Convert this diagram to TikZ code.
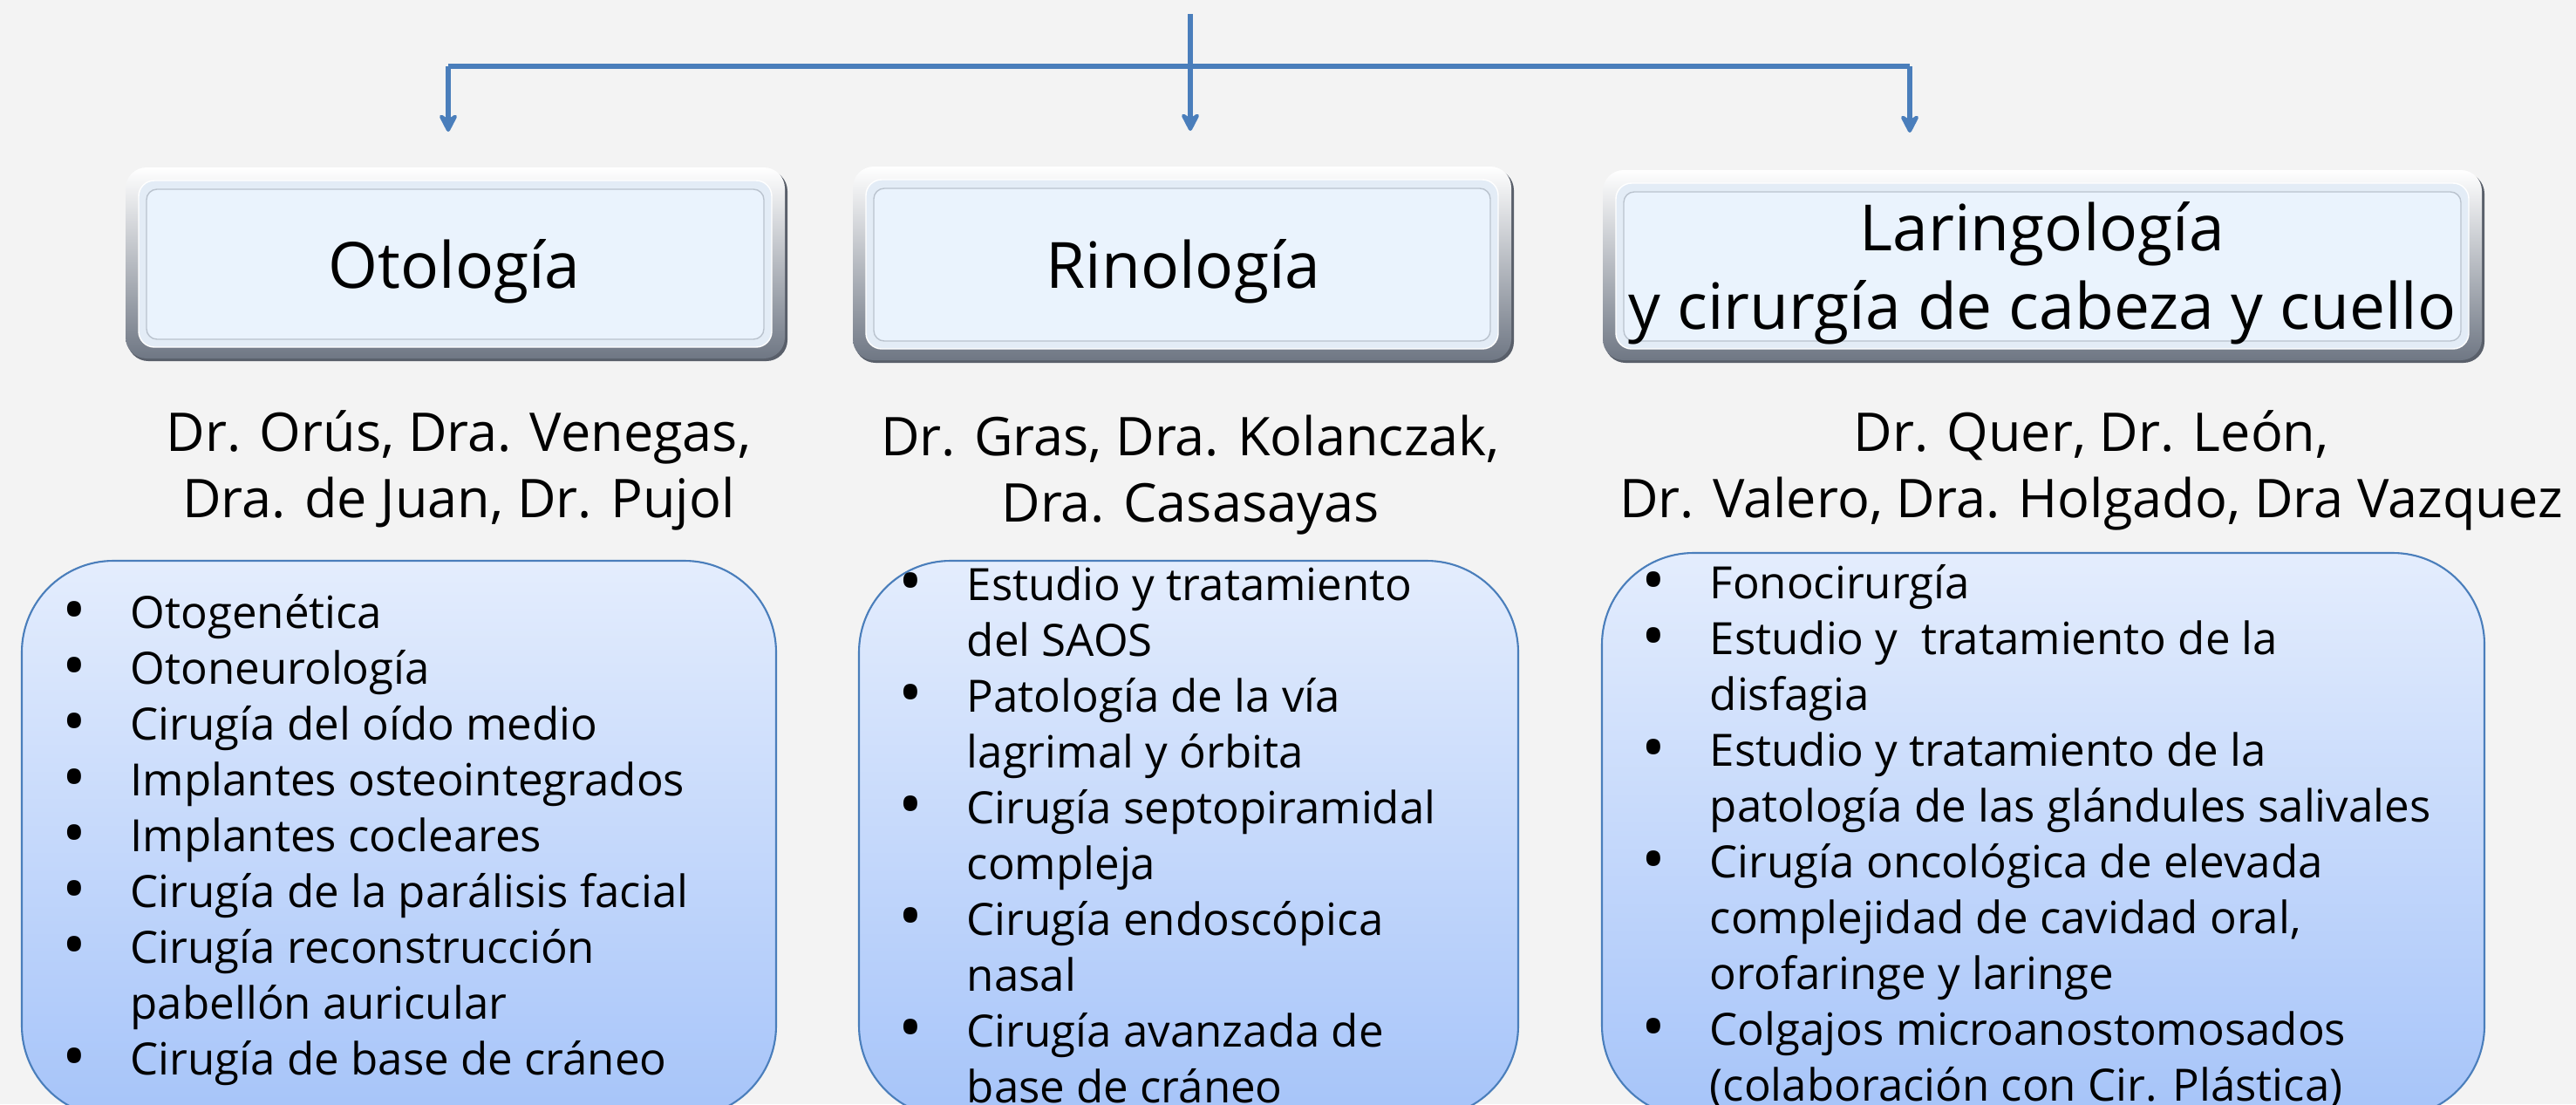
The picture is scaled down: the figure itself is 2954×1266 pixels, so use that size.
\documentclass[tikz,border=0pt]{standalone}
\usepackage{fontspec}
\setmainfont{Open Sans}
\usetikzlibrary{arrows.meta}

\definecolor{pagebg}{HTML}{F3F3F3}
\definecolor{linkblue}{HTML}{4A7EBB}
\definecolor{headfill}{HTML}{EAF3FD}
\definecolor{headrim}{HTML}{BAC3CE}
\definecolor{bevelgray}{HTML}{6F7784}
\definecolor{listtop}{HTML}{E4EDFD}
\definecolor{listbottom}{HTML}{A6C4F9}

\newcommand{\bul}{\makebox[0pt]{\raisebox{-0.09em}{\scalebox{1.45}{\textbullet}}}\hspace{0.64cm}}
\newcommand{\cont}{\hspace*{0.64cm}}

\begin{document}
\begin{tikzpicture}[x=0.01cm, y=-0.01cm,
    branch/.style={linkblue, line width=1.7pt, -{Stealth[length=7.4pt, width=7.6pt, inset=2.6pt, round]}},
    headtext/.style={font=\fontsize{20.8}{25.6}\selectfont, align=center, inner sep=0},
    docstext/.style={font=\fontsize{17.4}{21.6}\selectfont, align=center, inner sep=0},
    listtext/.style={font=\fontsize{14.5}{18.2}\selectfont, align=left, inner sep=0, anchor=west},
    listbox/.style={draw=linkblue, line width=0.6pt, top color=listtop, bottom color=listbottom, rounded corners=1.05cm}]

    % Background and page size
    \fill[pagebg] (0,0) rectangle (2954,1266);
    \useasboundingbox (0,0) rectangle (2954,1266);

    % Define coordinates for the connectors
    \coordinate (TopIn) at (1365,16);
    \coordinate (SplitLeft) at (514,76);
    \coordinate (SplitRight) at (2190,76);
    \coordinate (OtoIn) at (514,151);
    \coordinate (RinoIn) at (1365,150);
    \coordinate (LarIn) at (2190,152);

    % Connectors
    \draw[linkblue, line width=1.7pt] (SplitLeft) -- (SplitRight);
    \draw[branch] (TopIn) -- (RinoIn);
    \draw[branch] (SplitLeft) -- (OtoIn);
    \draw[branch] (SplitRight) -- (LarIn);

    % Raised heading boxes
    \foreach \xa/\ya/\xb/\yb in {144/192/900/411, 978/191/1733/413, 1838/195/2846/413} {
        \fill[bevelgray!80!black, rounded corners=0.24cm] (\xa+2,\ya+3) rectangle (\xb+3,\yb+3);
        \shade[rounded corners=0.24cm, top color=white, middle color=headrim!40, bottom color=bevelgray] (\xa,\ya) rectangle (\xb,\yb);
        \filldraw[fill=headfill!85!headrim, draw=white, rounded corners=0.18cm] (\xa+15,\ya+15) rectangle (\xb-15,\yb-13);
        \filldraw[fill=headfill, draw=headrim, rounded corners=0.12cm] (\xa+24,\ya+25) rectangle (\xb-24,\yb-22);
    }

    % Headings
    \node[headtext, anchor=base] (OtoHead) at (521,330) {Otología};
    \node[headtext, anchor=base] (RinoHead) at (1357,330) {Rinología};
    \node[headtext] (LarHead) at (2342,313) {Laringología\\y cirurgía de cabeza y cuello};

    % Doctors
    \node[docstext] (OtoDocs) at (526,539) {Dr. Orús, Dra. Venegas,\\Dra. de Juan, Dr. Pujol};
    \node[docstext] (RinoDocs) at (1365,545) {Dr. Gras, Dra. Kolanczak,\\Dra. Casasayas};
    \node[docstext] (LarDocs) at (2398,539) {Dr. Quer, Dr. León,\\Dr. Valero, Dra. Holgado, Dra Vazquez};

    % Lists of subjects
    \path[listbox] (25,643) rectangle (890,1281);
    \path[listbox] (985,643) rectangle (1741,1281);
    \path[listbox] (1837,634) rectangle (2849,1281);

    \node[listtext] (OtoList) at (85,963) {%
        \bul Otogenética\\
        \bul Otoneurología\\
        \bul Cirugía del oído medio\\
        \bul Implantes osteointegrados\\
        \bul Implantes cocleares\\
        \bul Cirugía de la parálisis facial\\
        \bul Cirugía reconstrucción\\
        \cont pabellón auricular\\
        \bul Cirugía de base de cráneo};
    \node[listtext] (RinoList) at (1044,957) {%
        \bul Estudio y tratamiento\\
        \cont del SAOS\\
        \bul Patología de la vía\\
        \cont lagrimal y órbita\\
        \bul Cirugía septopiramidal\\
        \cont compleja\\
        \bul Cirugía endoscópica\\
        \cont nasal\\
        \bul Cirugía avanzada de\\
        \cont base de cráneo};
    \node[listtext] (LarList) at (1896,959) {%
        \bul Fonocirurgía\\
        \bul Estudio y~ tratamiento de la\\
        \cont disfagia\\
        \bul Estudio y tratamiento de la\\
        \cont patología de las glándules salivales\\
        \bul Cirugía oncológica de elevada\\
        \cont complejidad de cavidad oral,\\
        \cont orofaringe y laringe\\
        \bul Colgajos microanostomosados\\
        \cont (colaboración con Cir. Plástica)};

\end{tikzpicture}
\end{document}
